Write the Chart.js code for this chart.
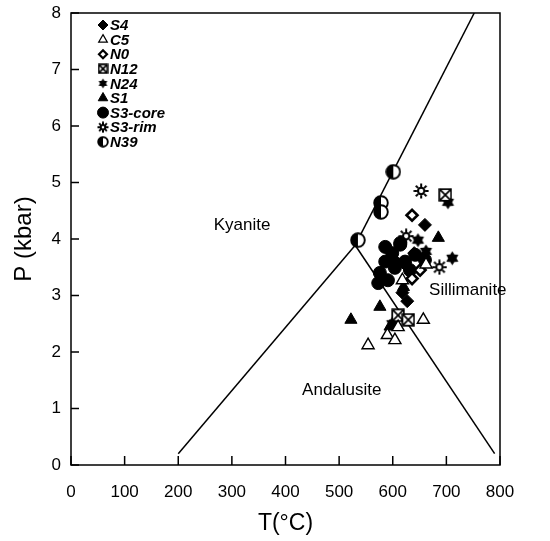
<!DOCTYPE html>
<html>
<head>
<meta charset="utf-8">
<script src="https://cdn.jsdelivr.net/npm/chart.js@4.4.1/dist/chart.umd.min.js"></script>
<style>
  html, body { margin: 0; padding: 0; background: #fff; }
  #wrap { width: 550px; height: 541px; }
</style>
</head>
<body>
<div id="wrap"><canvas id="mycanvas" width="550" height="541"></canvas></div>
<script>
// sample P-T estimates
var s4T = [660, 640, 618, 627, 606, 628];
var s4P = [4.25, 3.75, 3.05, 2.9, 3.6, 3.5];
var c5T = [618, 657, 590, 604, 554, 610, 662];
var c5P = [3.27, 2.57, 2.3, 2.21, 2.12, 2.44, 3.55];
var n0T = [636, 636, 651];
var n0P = [4.42, 3.3, 3.45];
var n12T = [698, 610, 629];
var n12P = [4.78, 2.65, 2.57];
var n24T = [703, 711, 647, 599, 662];
var n24P = [4.65, 3.66, 3.98, 2.5, 3.78];
var s1T = [685, 576, 522, 620, 595];
var s1P = [4.02, 2.8, 2.57, 3.15, 2.45];
var s3coreT = [599, 614, 586, 576, 591, 623, 642, 632, 604, 660, 614, 586, 573];
var s3coreP = [3.75, 3.9, 3.6, 3.4, 3.27, 3.6, 3.72, 3.45, 3.49, 3.63, 3.93, 3.86, 3.22];
var s3rimT = [653, 687, 625];
var s3rimP = [4.85, 3.5, 4.05];
var n39T = [601, 578, 578, 535];
var n39P = [5.19, 4.64, 4.48, 3.98];

// aluminosilicate phase boundaries
var kyAndT = [200, 530], kyAndP = [0.2, 3.89];
var kySilT = [530, 752], kySilP = [3.89, 8];
var andSilT = [530, 790], andSilP = [3.89, 0.2];

var fieldNames = ['Kyanite', 'Sillimanite', 'Andalusite'];
var fieldT = [319, 740, 505];
var fieldP = [4.25, 3.1, 1.33];

var xTicks = [0, 100, 200, 300, 400, 500, 600, 700, 800];
var yTicks = [0, 1, 2, 3, 4, 5, 6, 7, 8];

var FONT = "'Liberation Sans', Arial, Helvetica, sans-serif";

function pts(t, p) {
  var out = [];
  for (var i = 0; i < t.length; i++) out.push({x: t[i], y: p[i]});
  return out;
}

function mk(size, fn) {
  var c = document.createElement('canvas');
  c.width = size; c.height = size;
  var g = c.getContext('2d');
  fn(g, size / 2);
  return c;
}

function boxX(s) {
  return mk(s, function(g, m) {
    var h = s / 2 - 1.2;
    g.strokeStyle = '#000'; g.lineWidth = 1.7;
    g.fillStyle = '#fff';
    g.fillRect(m - h, m - h, 2 * h, 2 * h);
    g.strokeRect(m - h, m - h, 2 * h, 2 * h);
    g.beginPath();
    g.moveTo(m - h, m - h); g.lineTo(m + h, m + h);
    g.moveTo(m + h, m - h); g.lineTo(m - h, m + h);
    g.stroke();
  });
}

function star6(s) {
  return mk(s, function(g, m) {
    var ro = s / 2 - 0.5, ri = ro * 0.6;
    g.fillStyle = '#000';
    g.beginPath();
    for (var i = 0; i < 12; i++) {
      var a = -Math.PI / 2 + i * Math.PI / 6;
      var r = i % 2 ? ri : ro;
      g.lineTo(m + r * Math.cos(a), m + r * Math.sin(a));
    }
    g.closePath();
    g.fill();
  });
}

function sun(s) {
  return mk(s, function(g, m) {
    var ro = s / 2 - 0.5;
    g.strokeStyle = '#000'; g.lineWidth = 2;
    g.fillStyle = '#fff';
    g.beginPath(); g.arc(m, m, ro * 0.42, 0, 2 * Math.PI); g.fill(); g.stroke();
    g.beginPath();
    for (var i = 0; i < 8; i++) {
      var a = i * Math.PI / 4;
      g.moveTo(m + ro * 0.55 * Math.cos(a), m + ro * 0.55 * Math.sin(a));
      g.lineTo(m + ro * Math.cos(a), m + ro * Math.sin(a));
    }
    g.stroke();
  });
}

function halfDisc(s) {
  return mk(s, function(g, m) {
    var r = s / 2 - 1.2;
    g.fillStyle = '#fff';
    g.beginPath(); g.arc(m, m, r, 0, 2 * Math.PI); g.fill();
    g.fillStyle = '#000';
    g.beginPath(); g.arc(m, m, r, Math.PI / 2, Math.PI * 1.5); g.closePath(); g.fill();
    g.strokeStyle = '#000'; g.lineWidth = 1.9;
    g.beginPath(); g.arc(m, m, r, 0, 2 * Math.PI); g.stroke();
  });
}

var series = [
  {label: 'S4', data: pts(s4T, s4P), pointStyle: 'rectRot', pointRadius: 6.5, backgroundColor: '#000', borderColor: '#000', borderWidth: 1, leg: {style: 'rectRot', r: 5, fill: '#000', bw: 1}},
  {label: 'C5', data: pts(c5T, c5P), pointStyle: 'triangle', pointRadius: 7, backgroundColor: '#fff', borderColor: '#000', borderWidth: 1.4, leg: {style: 'triangle', r: 5, fill: '#fff', bw: 1.2}},
  {label: 'N0', data: pts(n0T, n0P), pointStyle: 'rectRot', pointRadius: 5.5, backgroundColor: '#fff', borderColor: '#000', borderWidth: 2.6, leg: {style: 'rectRot', r: 4, fill: '#fff', bw: 2.2}},
  {label: 'N12', data: pts(n12T, n12P), pointStyle: boxX(14), backgroundColor: '#000', borderColor: '#000', leg: {style: boxX(11)}},
  {label: 'N24', data: pts(n24T, n24P), pointStyle: star6(15), backgroundColor: '#000', borderColor: '#000', leg: {style: star6(11)}},
  {label: 'S1', data: pts(s1T, s1P), pointStyle: 'triangle', pointRadius: 7, backgroundColor: '#000', borderColor: '#000', borderWidth: 1, leg: {style: 'triangle', r: 5.5, fill: '#000', bw: 1}},
  {label: 'S3-core', data: pts(s3coreT, s3coreP), pointStyle: 'circle', pointRadius: 6.5, backgroundColor: '#000', borderColor: '#000', borderWidth: 1, leg: {style: 'circle', r: 5.5, fill: '#000', bw: 1}},
  {label: 'S3-rim', data: pts(s3rimT, s3rimP), pointStyle: sun(16), backgroundColor: '#000', borderColor: '#000', leg: {style: sun(12)}},
  {label: 'N39', data: pts(n39T, n39P), pointStyle: halfDisc(16), backgroundColor: '#000', borderColor: '#000', leg: {style: halfDisc(12)}}
];

var datasets = series.map(function(s) {
  return {type: 'scatter', label: s.label, data: s.data, pointStyle: s.pointStyle,
    pointRadius: s.pointRadius || 7, pointHoverRadius: s.pointRadius || 7,
    backgroundColor: s.backgroundColor, borderColor: s.borderColor, borderWidth: s.borderWidth || 1, order: 1};
});
[[kyAndT, kyAndP], [kySilT, kySilP], [andSilT, andSilP]].forEach(function(l, i) {
  datasets.push({type: 'line', label: 'boundary' + i, data: pts(l[0], l[1]), borderColor: '#000', borderWidth: 1.5,
    pointRadius: 0, fill: false, tension: 0, order: 10});
});

var frame = {
  id: 'frame',
  afterDatasetsDraw: function(chart) {
    var ctx = chart.ctx, a = chart.chartArea, xs = chart.scales.x, ys = chart.scales.y;
    ctx.save();
    ctx.strokeStyle = '#000'; ctx.lineWidth = 1.5;
    ctx.strokeRect(a.left, a.top, a.right - a.left, a.bottom - a.top);
    ctx.beginPath();
    xTicks.forEach(function(v) {
      var px = xs.getPixelForValue(v);
      ctx.moveTo(px, a.bottom); ctx.lineTo(px, a.bottom - 9);
    });
    yTicks.forEach(function(v) {
      var py = ys.getPixelForValue(v);
      ctx.moveTo(a.left, py); ctx.lineTo(a.left + 8, py);
    });
    ctx.stroke();

    // field names
    ctx.fillStyle = '#000';
    ctx.font = '17px ' + FONT;
    ctx.textAlign = 'center'; ctx.textBaseline = 'middle';
    fieldNames.forEach(function(n, i) {
      ctx.fillText(n, xs.getPixelForValue(fieldT[i]), ys.getPixelForValue(fieldP[i]));
    });

    // legend, top left inside the plot
    ctx.font = 'italic bold 15px ' + FONT;
    ctx.textAlign = 'left';
    series.forEach(function(s, i) {
      var y = a.top + 12 + i * 14.6, x = a.left + 32;
      var L = s.leg;
      if (typeof L.style === 'string') {
        ctx.fillStyle = L.fill; ctx.strokeStyle = '#000'; ctx.lineWidth = L.bw;
        Chart.helpers.drawPoint(ctx, {pointStyle: L.style, radius: L.r, rotation: 0, borderWidth: L.bw}, x, y);
      } else {
        ctx.drawImage(L.style, x - L.style.width / 2, y - L.style.height / 2);
      }
      ctx.fillStyle = '#000';
      ctx.fillText(s.label, x + 7, y + 1);
    });
    ctx.restore();
  }
};

var ctx = document.getElementById('mycanvas');
var chart = new Chart(ctx, {
  data: {datasets: datasets},
  options: {
    responsive: false,
    animation: false,
    layout: {padding: {top: 13, right: 50, left: 0, bottom: 0}},
    plugins: {legend: {display: false}, tooltip: {enabled: false}},
    scales: {
      x: {
        type: 'linear', min: 0, max: 800,
        grid: {display: false, drawTicks: false},
        border: {display: false},
        afterBuildTicks: function(s) { s.ticks = xTicks.map(function(v) { return {value: v}; }); },
        afterFit: function(s) { s.height = 76; s.paddingLeft = 0; s.paddingRight = 0; },
        ticks: {color: '#000', padding: 17, maxRotation: 0, font: {family: FONT, size: 17}},
        title: {display: true, text: 'T(°C)', color: '#000', padding: {top: 2}, font: {family: FONT, size: 23}}
      },
      y: {
        type: 'linear', min: 0, max: 8,
        grid: {display: false, drawTicks: false},
        border: {display: false},
        afterBuildTicks: function(s) { s.ticks = yTicks.map(function(v) { return {value: v}; }); },
        afterFit: function(s) { s.width = 71; s.paddingTop = 0; s.paddingBottom = 0; },
        ticks: {color: '#000', padding: 10, font: {family: FONT, size: 17}},
        title: {display: true, text: 'P (kbar)', color: '#000', padding: {top: 10, bottom: 0}, font: {family: FONT, size: 24}}
      }
    }
  },
  plugins: [frame]
});
</script>
</body>
</html>
